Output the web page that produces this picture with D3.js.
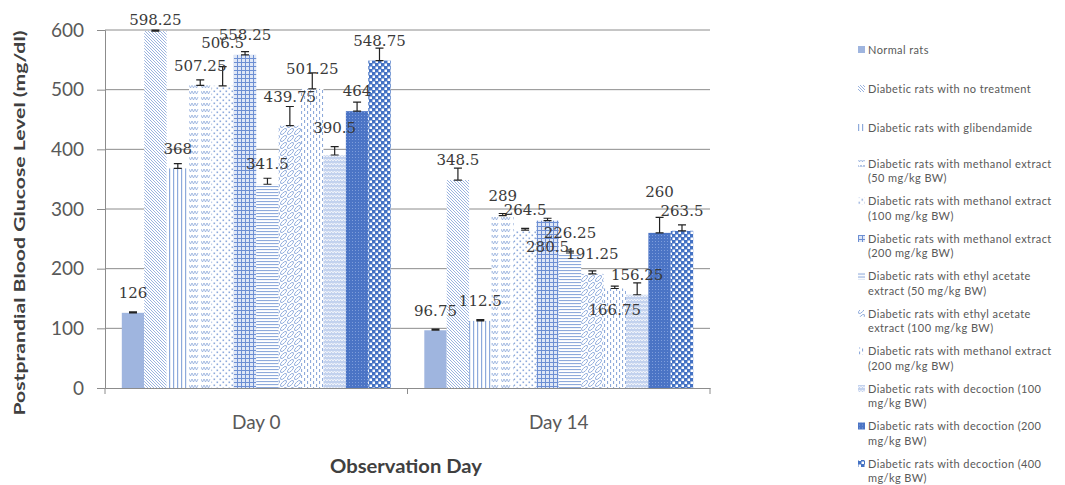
<!DOCTYPE html>
<html>
<head>
<meta charset="utf-8">
<title>Postprandial blood glucose</title>
<style>
body { margin: 0; background: #fff; }
svg { display: block; }
.tick text { fill: #595959; font-family: Lato, "Open Sans", sans-serif; }
</style>
<script src="https://d3js.org/d3.v7.min.js"></script>
</head>
<body>
<div id="chart"></div>
<script>
// data
var categories = ["Day 0", "Day 14"];
var seriesNames = [
    "Normal rats",
    "Diabetic rats with no treatment",
    "Diabetic rats with glibendamide",
    "Diabetic rats with methanol extract (50 mg/kg BW)",
    "Diabetic rats with methanol extract (100 mg/kg BW)",
    "Diabetic rats with methanol extract (200 mg/kg BW)",
    "Diabetic rats with ethyl acetate extract (50 mg/kg BW)",
    "Diabetic rats with ethyl acetate extract (100 mg/kg BW)",
    "Diabetic rats with methanol extract (200 mg/kg BW)",
    "Diabetic rats with decoction (100 mg/kg BW)",
    "Diabetic rats with decoction (200 mg/kg BW)",
    "Diabetic rats with decoction (400 mg/kg BW)"
];
// legend lines as wrapped in the original
var legendLines = [
    ["Normal rats"],
    ["Diabetic rats with no treatment"],
    ["Diabetic rats with glibendamide"],
    ["Diabetic rats with methanol extract", "(50 mg/kg BW)"],
    ["Diabetic rats with methanol extract", "(100 mg/kg BW)"],
    ["Diabetic rats with methanol extract", "(200 mg/kg BW)"],
    ["Diabetic rats with ethyl acetate", "extract (50 mg/kg BW)"],
    ["Diabetic rats with ethyl acetate", "extract (100 mg/kg BW)"],
    ["Diabetic rats with methanol extract", "(200 mg/kg BW)"],
    ["Diabetic rats with decoction (100", "mg/kg BW)"],
    ["Diabetic rats with decoction (200", "mg/kg BW)"],
    ["Diabetic rats with decoction (400", "mg/kg BW)"]
];
var day0Values = [126, 598.25, 368, 507.25, 506.5, 558.25, 341.5, 439.75, 501.25, 390.5, 464, 548.75];
var day14Values = [96.75, 348.5, 112.5, 289, 264.5, 280.5, 226.25, 191.25, 166.75, 156.25, 260, 263.5];
var day0Err = [1.5, 1.5, 8, 9, 32, 5.5, 10, 32, 27, 14, 15, 21];
var day14Err = [2, 20, 2, 3.5, 3, 4, 3, 5, 4, 20, 26, 10];
var yTicks = [0, 100, 200, 300, 400, 500, 600];

var width = 1065, height = 485;
var margin = {left: 105, top: 30, right: 355, bottom: 97};
var plotW = width - margin.left - margin.right;
var plotH = height - margin.top - margin.bottom;

var svg = d3.select('#chart').append('svg')
    .attr('width', width)
    .attr('height', height);

var defs = svg.append('defs');

////patterns, one per series
var light = '#8eaadb', mid = '#6d8fd3', dark = '#4472c4';

function makePattern(id, w, h, bg, draw){
    var p = defs.append('pattern')
        .attr('id', id)
        .attr('patternUnits', 'userSpaceOnUse')
        .attr('width', w)
        .attr('height', h);
    p.append('rect').attr('width', w).attr('height', h).attr('fill', bg);
    draw(p);
}

makePattern('p0', 4, 4, '#9fb5df', function(){});
makePattern('p1', 3, 3, '#fff', function(p){
    p.append('path').attr('d', 'M-1,-1L4,4M-1,2L1,4M2,-1L4,1')
        .attr('stroke', light).attr('stroke-width', 0.9);
});
makePattern('p2', 4, 4, '#fff', function(p){
    p.append('rect').attr('x', 0).attr('width', 1.2).attr('height', 4).attr('fill', light);
});
makePattern('p3', 12, 6, '#fff', function(p){
    p.append('path').attr('d', 'M0,1L1.5,4L3,1L4.5,4L6,1L7.5,4L9,1')
        .attr('stroke', light).attr('stroke-width', 0.8).attr('fill', 'none');
});
makePattern('p4', 6, 6, '#fff', function(p){
    p.append('rect').attr('x', 0.5).attr('y', 0.5).attr('width', 1.6).attr('height', 1.6).attr('fill', light);
    p.append('rect').attr('x', 3.5).attr('y', 3.5).attr('width', 1.6).attr('height', 1.6).attr('fill', light);
});
makePattern('p5', 4, 4, '#dfe7f6', function(p){
    p.append('path').attr('d', 'M0,0.5H4M0.5,0V4')
        .attr('stroke', mid).attr('stroke-width', 1);
});
makePattern('p6', 4, 3, '#fff', function(p){
    p.append('rect').attr('y', 0).attr('width', 4).attr('height', 1.1).attr('fill', light);
});
makePattern('p7', 7, 7, '#fff', function(p){
    p.append('ellipse').attr('cx', 3.5).attr('cy', 3.5).attr('rx', 4).attr('ry', 1.6)
        .attr('transform', 'rotate(-45 3.5 3.5)')
        .attr('fill', 'none').attr('stroke', light).attr('stroke-width', 0.9);
});
makePattern('p8', 6, 6, '#fff', function(p){
    p.append('rect').attr('x', 1).attr('y', 0).attr('width', 1.1).attr('height', 3).attr('fill', light);
    p.append('rect').attr('x', 4).attr('y', 3).attr('width', 1.1).attr('height', 3).attr('fill', light);
});
makePattern('p9', 6, 4, '#c3d2ee', function(p){
    p.append('path').attr('d', 'M0,3L1.5,1L3,3L4.5,1L6,3')
        .attr('stroke', '#fff').attr('stroke-width', 0.8).attr('fill', 'none');
});
makePattern('p10', 3, 3, '#4b74c5', function(p){
    p.append('rect').attr('x', 1).attr('y', 1).attr('width', 1).attr('height', 1).attr('fill', '#7e9ddb');
});
makePattern('p11', 6, 6, dark, function(p){
    p.append('rect').attr('x', 0.5).attr('y', 0.5).attr('width', 2.5).attr('height', 2.5).attr('fill', '#fff');
    p.append('rect').attr('x', 3.5).attr('y', 3.5).attr('width', 2.5).attr('height', 2.5).attr('fill', '#fff');
});

////scales
var x0 = d3.scaleBand().domain(categories).range([0, plotW]).padding(0);
var x1 = d3.scaleBand().domain(d3.range(seriesNames.length))
    .range([0, x0.bandwidth()]).paddingInner(0).paddingOuter(0.75);
var y = d3.scaleLinear().domain([0, 600]).range([plotH, 0]);

var g = svg.append('g').attr('transform', 'translate(' + margin.left + ',' + margin.top + ')');

//gridlines
g.append('g').selectAll('line').data(yTicks.slice(1)).enter().append('line')
    .attr('x1', 0).attr('x2', plotW)
    .attr('y1', function(d){ return y(d); }).attr('y2', function(d){ return y(d); })
    .attr('stroke', '#8c8c8c').attr('stroke-width', 1);

//y axis
var yAxis = g.append('g')
    .call(d3.axisLeft(y).tickValues(yTicks).tickSize(8).tickPadding(13));
yAxis.select('.domain').attr('stroke', '#8c8c8c');
yAxis.selectAll('.tick line').attr('stroke', '#8c8c8c');
yAxis.selectAll('.tick text').style('font-size', '19px');

//x axis
var xAxis = g.append('g').attr('transform', 'translate(0,' + plotH + ')')
    .call(d3.axisBottom(x0).tickSize(0).tickPadding(28));
xAxis.select('.domain').attr('stroke', '#8c8c8c');
xAxis.selectAll('.tick text').style('font-size', '19px');
xAxis.selectAll('.sep').data([0, x0.bandwidth(), plotW]).enter().append('line')
    .attr('class', 'sep')
    .attr('x1', function(d){ return d; }).attr('x2', function(d){ return d; })
    .attr('y1', 0).attr('y2', 6)
    .attr('stroke', '#8c8c8c');

////bars
var rows = [];
categories.forEach(function(c, ci){
    var vals = ci === 0 ? day0Values : day14Values;
    var errs = ci === 0 ? day0Err : day14Err;
    vals.forEach(function(v, i){
        rows.push({cat: c, s: i, v: v, e: errs[i]});
    });
});

var bw = x1.bandwidth();
function barX(d){ return x0(d.cat) + x1(d.s); }

g.append('g').selectAll('rect').data(rows).enter().append('rect')
    .attr('x', barX)
    .attr('y', function(d){ return y(d.v); })
    .attr('width', bw)
    .attr('height', function(d){ return plotH - y(d.v); })
    .attr('fill', function(d){ return 'url(#p' + d.s + ')'; });

//plus error bars
g.append('g').selectAll('path').data(rows).enter().append('path')
    .attr('d', function(d){
        var c = barX(d) + bw / 2, t = y(d.v + d.e), b = y(d.v);
        return 'M' + c + ',' + t + 'V' + b +
            'M' + (c - 4) + ',' + t + 'H' + (c + 4) +
            'M' + (c - 4) + ',' + b + 'H' + (c + 4);
    })
    .attr('stroke', '#222').attr('stroke-width', 1.2).attr('fill', 'none');

//value labels, on top of every bar; a few were dragged by hand in the original
var labelNudge = {'Day 0|4': -23, 'Day 0|7': -9, 'Day 0|9': -7,
    'Day 14|5': 46, 'Day 14|8': 41, 'Day 14|10': -21};

g.append('g').selectAll('text').data(rows).enter().append('text')
    .attr('x', function(d){ return barX(d) + bw / 2; })
    .attr('y', function(d){
        var n = labelNudge[d.cat + '|' + d.s] || 0;
        return Math.max(y(d.v) - 20, -10) + n;
    })
    .attr('dy', '0.35em')
    .attr('text-anchor', 'middle')
    .style('font-family', '"DejaVu Serif", serif')
    .style('font-size', '15px')
    .attr('fill', '#3a3a3a')
    .text(function(d){ return d.v; });

////axis titles
svg.append('text')
    .attr('transform', 'translate(19,223) rotate(-90)')
    .attr('text-anchor', 'middle')
    .attr('dy', '0.35em')
    .attr('textLength', 385)
    .attr('lengthAdjust', 'spacingAndGlyphs')
    .style('font-family', 'Lato, "Open Sans", sans-serif')
    .style('font-weight', 'bold')
    .style('font-size', '16px')
    .attr('fill', '#404040')
    .text('Postprandial Blood Glucose Level (mg/dl)');

svg.append('text')
    .attr('x', 406)
    .attr('y', 467)
    .attr('dy', '0.35em')
    .attr('text-anchor', 'middle')
    .attr('textLength', 152)
    .attr('lengthAdjust', 'spacingAndGlyphs')
    .style('font-family', 'Lato, "Open Sans", sans-serif')
    .style('font-weight', 'bold')
    .style('font-size', '18px')
    .attr('fill', '#404040')
    .text('Observation Day');

////legend
var legendY = d3.scaleLinear().domain([3, 11]).range([164, 464]);
function itemY(i){
    return i < 3 ? 50 + i * 39 : legendY(i);
}

var legend = svg.append('g').attr('class', 'legend');
var item = legend.selectAll('g').data(legendLines).enter().append('g')
    .attr('transform', function(d, i){ return 'translate(858,' + itemY(i) + ')'; });

item.append('rect')
    .attr('x', 0).attr('y', -4)
    .attr('width', 7).attr('height', 7)
    .attr('fill', function(d, i){ return 'url(#p' + i + ')'; });

//one text per wrapped line
item.selectAll('text').data(function(d){ return d; }).enter().append('text')
    .attr('x', 10)
    .attr('y', function(d, i){ return i * 14.5; })
    .attr('dy', '0.35em')
    .style('font-family', 'Lato, "Open Sans", sans-serif')
    .style('font-size', '11px')
    .style('letter-spacing', '0.4px')
    .attr('fill', '#595959')
    .text(function(d){ return d; });
</script>
</body>
</html>
